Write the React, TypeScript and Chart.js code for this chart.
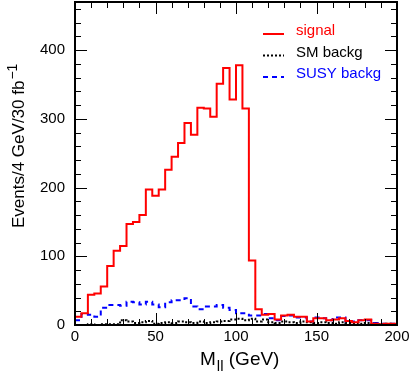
import React, { useEffect, useRef } from 'react';
import { Chart, registerables } from 'chart.js';

Chart.register(...registerables);

// ---- data (4 GeV bins from 0 to 200 GeV) ----
const BIN_WIDTH = 4;
const X_MIN = 0;
const X_MAX = 200;
const Y_MIN = 0;
const Y_MAX = 470;
const X_TICK_STEP = 50;
const Y_TICK_STEP = 100;

const signal = [
  12, 17, 44, 46, 56, 86, 108, 115, 147, 150,
  160, 197, 188, 197, 226, 245, 265, 294, 277, 316,
  315, 303, 351, 374, 328, 378, 315, 94, 23, 15,
  16, 8, 14, 15, 12, 12, 5, 10, 10, 7,
  8, 10, 6, 4, 7, 8, 2, 1, 2, 2,
];

const smBackg = [
  0, 0, 1, 0, 1, 1, 1, 7, 5, 3,
  4, 6, 2, 3, 4, 3, 5, 4, 3, 5,
  3, 4, 5, 6, 8, 9, 7, 9, 5, 8,
  4, 3, 5, 4, 3, 5, 4, 3, 4, 3,
  2, 4, 3, 3, 2, 3, 2, 1, 2, 1,
];

const susyBackg = [
  7, 16, 15, 12, 25, 29, 29, 28, 34, 33,
  30, 34, 30, 26, 33, 36, 36, 39, 27, 23,
  27, 27, 29, 25, 22, 17, 17, 14, 14, 16,
  10, 7, 13, 14, 11, 11, 5, 11, 10, 7,
  11, 11, 5, 5, 7, 7, 3, 2, 2, 2,
];

const seriesNames = ['signal', 'SM backg', 'SUSY backg'];
const seriesColors = ['#ff0000', '#000000', '#0000ff'];
const seriesDash: number[][] = [[], [2, 2], [5, 4]];

const FONT = "'Liberation Sans', Arial, Helvetica, sans-serif";

function toSteps(values: number[]) {
  const pts = values.map((v, i) => ({ x: X_MIN + i * BIN_WIDTH, y: v }));
  pts.push({ x: X_MIN + values.length * BIN_WIDTH, y: values[values.length - 1] });
  return pts;
}

const rootFramePlugin = {
  id: 'rootFrame',
  afterDraw(chart: any) {
    const { ctx, chartArea: a, scales } = chart;
    const xs = scales.x;
    const ys = scales.y;
    ctx.save();
    ctx.strokeStyle = '#000';
    ctx.lineWidth = 1;
    ctx.setLineDash([]);
    const seg = (x1: number, y1: number, x2: number, y2: number) => {
      ctx.beginPath();
      ctx.moveTo(x1, y1);
      ctx.lineTo(x2, y2);
      ctx.stroke();
    };
    // x ticks (bottom and top, inside)
    for (let v = X_MIN; v <= X_MAX; v += 10) {
      const px = Math.round(xs.getPixelForValue(v)) + 0.5;
      const len = v % X_TICK_STEP === 0 ? 12 : 6;
      seg(px, a.bottom, px, a.bottom - len);
      seg(px, a.top, px, a.top + len);
    }
    // y ticks (left and right, inside)
    for (let v = Y_MIN; v <= Y_MAX; v += 20) {
      const py = Math.round(ys.getPixelForValue(v)) + 0.5;
      const len = v % Y_TICK_STEP === 0 ? 12 : 6;
      seg(a.left, py, a.left + len, py);
      seg(a.right, py, a.right - len, py);
    }
    // frame
    ctx.lineWidth = 2;
    ctx.strokeRect(a.left, a.top, a.right - a.left, a.bottom - a.top);

    // legend
    const lx0 = a.right - 134;
    const lx1 = a.right - 113;
    const tx = a.right - 101;
    const baselines = [a.top + 33, a.top + 54.5, a.top + 76];
    ctx.font = `15px ${FONT}`;
    ctx.textBaseline = 'alphabetic';
    ctx.textAlign = 'left';
    seriesNames.forEach((name, i) => {
      const by = baselines[i];
      ctx.strokeStyle = seriesColors[i];
      ctx.lineWidth = 2;
      ctx.setLineDash(seriesDash[i]);
      seg(lx0, by - 1, lx1, by - 1);
      ctx.setLineDash([]);
      ctx.fillStyle = seriesColors[i];
      ctx.fillText(name, tx, by);
    });

    // x title: M_ll (GeV)
    ctx.fillStyle = '#000';
    ctx.font = `19px ${FONT}`;
    let x = 200;
    const xb = 365;
    ctx.fillText('M', x, xb);
    x += ctx.measureText('M').width + 1;
    ctx.font = `15px ${FONT}`;
    ctx.fillText('ll', x, xb + 6);
    x += ctx.measureText('ll').width;
    ctx.font = `19px ${FONT}`;
    ctx.fillText(' (GeV)', x, xb);

    // y title: Events/4 GeV/30 fb^-1
    ctx.save();
    ctx.translate(24, 228);
    ctx.rotate(-Math.PI / 2);
    ctx.font = `17px ${FONT}`;
    const main = 'Events/4 GeV/30 fb';
    ctx.fillText(main, 0, 0);
    const w = ctx.measureText(main).width;
    ctx.font = `14px ${FONT}`;
    ctx.fillText('\u22121', w + 1, -7);
    ctx.restore();

    ctx.restore();
  },
};

export default function App() {
  const ref = useRef<HTMLCanvasElement | null>(null);

  useEffect(() => {
    if (!ref.current) return;
    const chart = new Chart(ref.current, {
      type: 'line',
      data: {
        datasets: [signal, smBackg, susyBackg].map((vals, i) => ({
          label: seriesNames[i],
          data: toSteps(vals),
          borderColor: seriesColors[i],
          borderDash: seriesDash[i],
          borderWidth: 2,
          stepped: true,
          pointRadius: 0,
          fill: false,
          tension: 0,
        })),
      },
      options: {
        animation: false,
        responsive: true,
        maintainAspectRatio: false,
        layout: { padding: { top: 2, right: 14, left: 0, bottom: 0 } },
        plugins: {
          legend: { display: false },
          tooltip: { enabled: false },
        },
        events: [],
        scales: {
          x: {
            type: 'linear',
            min: X_MIN,
            max: X_MAX,
            grid: { display: false, drawTicks: false },
            border: { display: false },
            ticks: {
              stepSize: X_TICK_STEP,
              includeBounds: false,
              maxRotation: 0,
              autoSkip: false,
              padding: 3,
              color: '#000',
              font: { family: FONT, size: 15 },
            },
            afterFit(scale: any) {
              scale.height = 51;
              scale.paddingLeft = 0;
              scale.paddingRight = 0;
            },
          },
          y: {
            type: 'linear',
            min: Y_MIN,
            max: Y_MAX,
            grid: { display: false, drawTicks: false },
            border: { display: false },
            ticks: {
              stepSize: Y_TICK_STEP,
              includeBounds: false,
              autoSkip: false,
              padding: 10,
              color: '#000',
              font: { family: FONT, size: 15 },
            },
            afterFit(scale: any) {
              scale.width = 75;
              scale.paddingTop = 0;
              scale.paddingBottom = 0;
            },
          },
        },
      },
      plugins: [rootFramePlugin],
    } as any);
    return () => chart.destroy();
  }, []);

  return (
    <div style={{ position: 'absolute', left: 0, top: 0, width: 411, height: 376, background: '#fff' }}>
      <canvas ref={ref} />
    </div>
  );
}
